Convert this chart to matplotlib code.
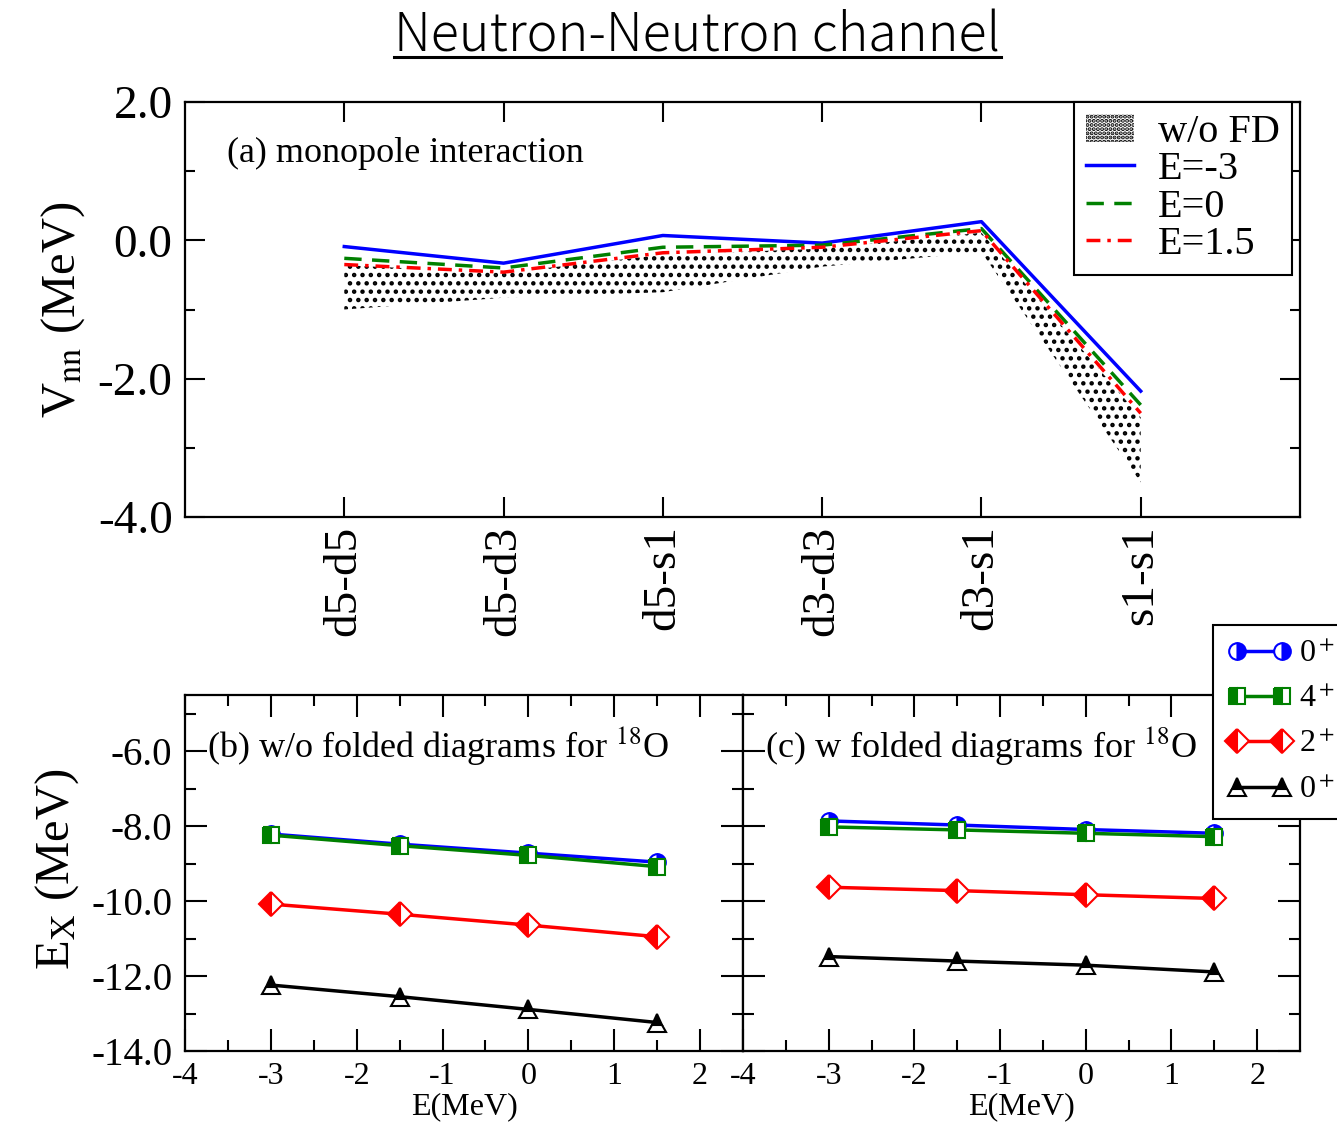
import numpy as np
import matplotlib
matplotlib.use("Agg")
import matplotlib.pyplot as plt
from matplotlib.lines import Line2D
from matplotlib.patches import Patch

plt.rcParams['font.family'] = ['Liberation Serif', 'DejaVu Serif']
plt.rcParams['mathtext.fontset'] = 'stix'
plt.rcParams['axes.unicode_minus'] = False
plt.rcParams['hatch.linewidth'] = 2.0

# ---- panel (a): monopole interaction, neutron-neutron ----
orbit_pairs = ['d5-d5', 'd5-d3', 'd5-s1', 'd3-d3', 'd3-s1', 's1-s1']
v_e_m3 = [-0.09, -0.33, 0.07, -0.04, 0.27, -2.18]
v_e_0 = [-0.26, -0.40, -0.10, -0.07, 0.17, -2.38]
v_e_15 = [-0.35, -0.46, -0.18, -0.10, 0.14, -2.50]
wofd_upper = [-0.36, -0.47, -0.21, -0.12, 0.11, -2.56]
wofd_lower = [-1.00, -0.83, -0.75, -0.38, -0.17, -3.50]

# ---- panels (b), (c): 18O levels vs starting energy ----
e_start = [-3.0, -1.5, 0.0, 1.5]
b_0p_a = [-8.21, -8.48, -8.72, -8.96]
b_4p = [-8.24, -8.52, -8.78, -9.08]
b_2p = [-10.08, -10.35, -10.64, -10.95]
b_0p_b = [-12.24, -12.55, -12.89, -13.24]
c_0p_a = [-7.86, -7.97, -8.09, -8.19]
c_4p = [-8.02, -8.10, -8.19, -8.28]
c_2p = [-9.63, -9.72, -9.83, -9.93]
c_0p_b = [-11.48, -11.60, -11.71, -11.89]

state_labels = ['0$^+$', '4$^+$', '2$^+$', '0$^+$']
state_colors = ['blue', 'green', 'red', 'black']
state_markers = ['o', 's', 'D', '^']
state_fill = ['right', 'left', 'left', 'top']
state_msize = [12, 11, 12, 13]

W, H = 1337, 1123
fig = plt.figure(figsize=(W / 100, H / 100), dpi=100)


def frac(x0, y0, x1, y1):
    return [x0 / W, 1 - y1 / H, (x1 - x0) / W, (y1 - y0) / H]


def style_ticks(ax, size, major=20, minor=10):
    ax.tick_params(which='both', direction='in', top=True, right=True,
                   width=1.5, labelsize=size)
    ax.tick_params(which='major', length=major / 1.389)
    ax.tick_params(which='minor', length=minor / 1.389)
    for s in ax.spines.values():
        s.set_linewidth(1.6)


# top panel
ax = fig.add_axes(frac(185, 102, 1300, 517))
xs = np.arange(1, len(orbit_pairs) + 1)
band = ax.fill_between(xs, wofd_lower, wofd_upper, facecolor='white',
                       edgecolor='black', hatch='..', linewidth=0)
ax.plot(xs, v_e_m3, color='blue', lw=2.5)
ax.plot(xs, v_e_0, color='green', lw=2.5, ls=(0, (5, 3)))
ax.plot(xs, v_e_15, color='red', lw=2.5, ls=(0, (4, 2, 1, 2)))
ax.set_xlim(0, 7)
ax.set_ylim(-4, 2)
ax.set_xticks(xs)
ax.set_xticklabels(orbit_pairs, rotation=90, fontsize=26)
ax.set_yticks([-4, -2, 0, 2])
ax.set_yticks([-3, -1, 1], minor=True)
ax.set_yticklabels(['-4.0', '-2.0', '0.0', '2.0'])
style_ticks(ax, 34)
ax.tick_params(axis='x', pad=6)
ax.tick_params(axis='y', pad=9)
ax.set_ylabel('V$_{\\rm nn}$ (MeV)', fontsize=35)
ax.yaxis.set_label_coords(-0.088, 0.5)
ax.text(0.038, 0.855, '(a) monopole interaction', transform=ax.transAxes,
        fontsize=26, va='baseline')
leg_a = ax.legend(
    [Patch(facecolor='white', edgecolor='black', hatch='....', linewidth=0),
     Line2D([], [], color='blue', lw=2.5),
     Line2D([], [], color='green', lw=2.5, ls=(0, (5, 3))),
     Line2D([], [], color='red', lw=2.5, ls=(0, (4, 2, 1, 2)))],
    ['w/o FD', 'E=-3', 'E=0', 'E=1.5'],
    loc='upper right', bbox_to_anchor=(0.993, 1.0), borderaxespad=0,
    fontsize=29, handlelength=1.2, handletextpad=0.6, labelspacing=0.0,
    borderpad=0.3, fancybox=False, edgecolor='black', framealpha=1)
leg_a.get_frame().set_linewidth(1.5)

# bottom panels
panels = [
    ('(b) w/o folded diagrams for $^{18}$O', (185, 743),
     [b_0p_a, b_4p, b_2p, b_0p_b]),
    ('(c) w folded diagrams for $^{18}$O', (743, 1300),
     [c_0p_a, c_4p, c_2p, c_0p_b]),
]
handles = []
for i, (title, (x0, x1), series) in enumerate(panels):
    bx = fig.add_axes(frac(x0, 695, x1, 1051))
    for j, vals in enumerate(series):
        ln, = bx.plot(e_start, vals, color=state_colors[j], lw=2.5,
                      marker=state_markers[j], ms=state_msize[j],
                      fillstyle=state_fill[j], markerfacecoloralt='white',
                      mec=state_colors[j], mew=1.5)
        if i == 1:
            handles.append(ln)
    bx.set_xlim(-4, 2.5)
    bx.set_ylim(-14, -4.5)
    bx.set_xticks([-4, -3, -2, -1, 0, 1, 2])
    bx.set_xticks(np.arange(-3.5, 2.5, 1.0), minor=True)
    bx.set_yticks([-14, -12, -10, -8, -6])
    bx.set_yticks([-13, -11, -9, -7, -5], minor=True)
    style_ticks(bx, 23, major=22, minor=11)
    bx.tick_params(axis='x', pad=8)
    if i == 0:
        bx.set_yticklabels(['-14.0', '-12.0', '-10.0', '-8.0', '-6.0'],
                           fontsize=28)
        bx.tick_params(axis='y', pad=9)
        bx.set_ylabel('E$_{\\rm X}$ (MeV)', fontsize=35)
        bx.yaxis.set_label_coords(-0.186, 0.51)
    else:
        bx.set_yticklabels([])
    bx.set_xlabel('E(MeV)', fontsize=23, labelpad=1)
    bx.text(0.039, 0.826, title, transform=bx.transAxes, fontsize=26,
            va='baseline')

leg_b = fig.legend(handles, state_labels, loc='upper left',
                   bbox_to_anchor=(1213 / W, 1 - 625 / H),
                   bbox_transform=fig.transFigure, borderaxespad=0,
                   fontsize=23, numpoints=2, handlelength=2.0,
                   handletextpad=0.25, labelspacing=0.5, borderpad=0.45,
                   fancybox=False, edgecolor='black', framealpha=1)
leg_b.get_frame().set_linewidth(1.5)

# underlined title
title = fig.text(697.5 / W, 1 - 52 / H, 'Neutron-Neutron channel',
                 ha='center', va='baseline', fontsize=37.5, fontweight='light',
                 family=['Noto Sans CJK JP', 'DejaVu Sans'])
fig.canvas.draw()
bb = title.get_window_extent(fig.canvas.get_renderer())
uy = 1 - 57 / H
fig.add_artist(Line2D([bb.x0 / W, bb.x1 / W], [uy, uy], color='black',
                      lw=2.2, transform=fig.transFigure))

fig.savefig('out.png', dpi=100)
